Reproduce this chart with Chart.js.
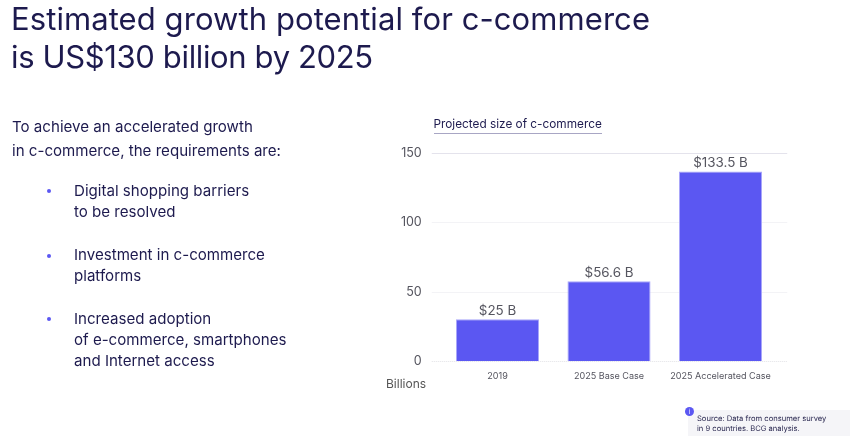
<!DOCTYPE html>
<html><head><meta charset="utf-8">
<script src="https://cdn.jsdelivr.net/npm/chart.js@4"></script>
<style>
html,body{margin:0;padding:0;background:#fff;width:850px;height:436px;overflow:hidden;font-family:Inter,"Noto Sans",sans-serif;color:#1d1a4e}
canvas{position:absolute;left:0;top:0}
.t{position:absolute;white-space:nowrap}
.title{left:11px;font-size:31px;line-height:38px;font-weight:400;letter-spacing:.08px}
.body{font-size:15.1px;line-height:22px}
.dot{position:absolute;width:4px;height:4px;border-radius:50%;background:#5b57f2}
.note{position:absolute;left:688px;top:410px;width:162px;height:26px;background:#f5f5f8}
.noteT{left:697px;top:414px;font-size:7.6px;line-height:9.5px;color:#2a2850;text-rendering:geometricPrecision}
.info{position:absolute;left:685px;top:407px;width:9px;height:9px;border-radius:50%;background:#5b57f2;color:#fff;font-size:6px;line-height:9px;text-align:center}
.sub{left:433.5px;top:116px;font-size:11.8px;line-height:16px;padding-bottom:1px;border-bottom:1px solid #a8a6c4}
.bil{left:386px;top:376px;font-size:12px;line-height:16px;color:#555}
</style></head><body>
<canvas id="c" width="850" height="436" style="width:850px;height:436px"></canvas>
<div class="t title" style="top:0px">Estimated growth potential for c-commerce</div>
<div class="t title" style="top:38px;letter-spacing:-.36px">is US$130 billion by 2025</div>
<div class="t body" style="left:12px;top:116px">To achieve an accelerated growth</div>
<div class="t body" style="left:12px;top:140px">in c-commerce, the requirements are:</div>
<div class="dot" style="left:47px;top:189px"></div>
<div class="t body" style="left:74px;top:180px">Digital shopping barriers</div>
<div class="t body" style="left:74px;top:201px">to be resolved</div>
<div class="dot" style="left:47px;top:254px"></div>
<div class="t body" style="left:74px;top:244px">Investment in c-commerce</div>
<div class="t body" style="left:74px;top:265px">platforms</div>
<div class="dot" style="left:47px;top:317px"></div>
<div class="t body" style="left:74px;top:308px">Increased adoption</div>
<div class="t body" style="left:74px;top:329px">of e-commerce, smartphones</div>
<div class="t body" style="left:74px;top:350px">and Internet access</div>
<div class="t sub">Projected size of c-commerce</div>
<div class="t bil">Billions</div>
<div class="note"></div><div class="info">i</div>
<div class="t noteT">Source: Data from consumer survey<br>in 9 countries. BCG analysis.</div>
<script>
const categories = ['2019', '2025 Base Case', '2025 Accelerated Case'];
const barHeights = [30.3, 57.7, 136.7];
const valueLabels = ['$25 B', '$56.6 B', '$133.5 B'];
const yTicks = [0, 50, 100, 150];

const FONT = 'Inter, "Noto Sans", sans-serif';
const gridLines = {
  id: 'gridLines',
  beforeDatasetsDraw(chart) {
    const { ctx, chartArea: a, scales: { y } } = chart;
    ctx.save();
    yTicks.forEach(v => {
      const py = Math.round(y.getPixelForValue(v)) + 0.5;
      ctx.beginPath();
      ctx.moveTo(a.left - 10, py);
      ctx.lineTo(a.right + 11, py);
      ctx.lineWidth = 1;
      ctx.strokeStyle = v === 150 ? '#e4e3ec' : v === 0 ? '#e2e2e6' : '#f3f3f6';
      ctx.setLineDash(v === 0 ? [1, 1] : []);
      ctx.stroke();
    });
    ctx.restore();
  }
};
const barLabels = {
  id: 'barLabels',
  afterDatasetsDraw(chart) {
    const { ctx } = chart;
    ctx.save();
    ctx.font = '13.4px ' + FONT;
    ctx.fillStyle = '#55555f';
    ctx.textAlign = 'center';
    ctx.textBaseline = 'bottom';
    chart.getDatasetMeta(0).data.forEach((b, i) => {
      ctx.fillText(valueLabels[i], b.x, b.y - 2);
    });
    ctx.restore();
  }
};
new Chart(document.getElementById('c'), {
  type: 'bar',
  data: { labels: categories, datasets: [{
    data: barHeights,
    backgroundColor: '#5b57f2',
    borderColor: '#a9a6fa',
    borderWidth: 1,
    barPercentage: 0.745,
    categoryPercentage: 1
  }] },
  plugins: [gridLines, barLabels],
  options: {
    responsive: false,
    animation: false,
    layout: { padding: { top: 153, right: 73.75, left: 0, bottom: 0 } },
    plugins: { legend: { display: false }, tooltip: { enabled: false }, title: { display: false } },
    scales: {
      x: {
        grid: { display: false }, border: { display: false },
        ticks: { color: '#55555f', font: { family: FONT, size: 9.05 }, padding: 2, maxRotation: 0, autoSkip: false },
        afterFit(s) { s.height = 74.7; }
      },
      y: {
        min: 0, max: 150,
        grid: { display: false }, border: { display: false },
        afterBuildTicks(s) { s.ticks = yTicks.map(v => ({ value: v })); },
        ticks: { color: '#55555f', font: { family: FONT, size: 12.5 }, padding: 12 },
        afterFit(s) { s.width = 441.75; }
      }
    }
  }
});
</script>
</body></html>
